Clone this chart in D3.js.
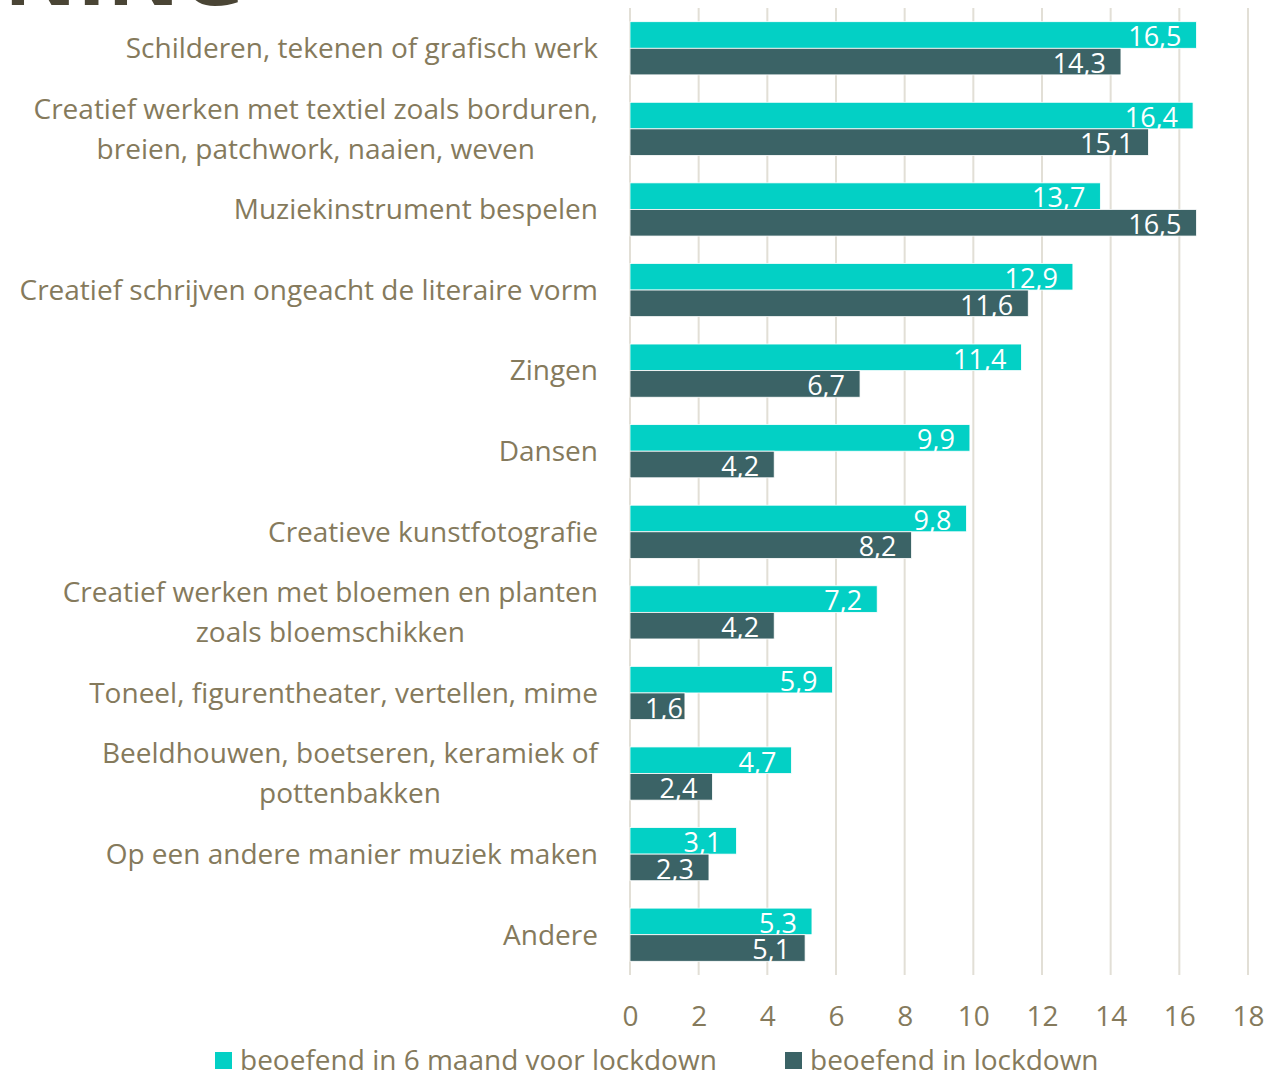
<!DOCTYPE html>
<html>
<head>
<meta charset="utf-8">
<script src="https://cdn.jsdelivr.net/npm/d3@7"></script>
<style>
  html, body { margin: 0; padding: 0; background: #fff; }
  svg text { font-family: "Open Sans", Lato, sans-serif; }
</style>
</head>
<body>
<svg id="chart" width="1268" height="1073"></svg>
<script>
const categories = [
  ["Schilderen, tekenen of grafisch werk"],
  ["Creatief werken met textiel zoals borduren,", "breien, patchwork, naaien, weven"],
  ["Muziekinstrument bespelen"],
  ["Creatief schrijven ongeacht de literaire vorm"],
  ["Zingen"],
  ["Dansen"],
  ["Creatieve kunstfotografie"],
  ["Creatief werken met bloemen en planten", "zoals bloemschikken"],
  ["Toneel, figurentheater, vertellen, mime"],
  ["Beeldhouwen, boetseren, keramiek of", "pottenbakken"],
  ["Op een andere manier muziek maken"],
  ["Andere"]
];
const voorLockdown = [16.5, 16.4, 13.7, 12.9, 11.4, 9.9, 9.8, 7.2, 5.9, 4.7, 3.1, 5.3];
const inLockdown = [14.3, 15.1, 16.5, 11.6, 6.7, 4.2, 8.2, 4.2, 1.6, 2.4, 2.3, 5.1];
const seriesNames = ["beoefend in 6 maand voor lockdown", "beoefend in lockdown"];
const xTicks = [0, 2, 4, 6, 8, 10, 12, 14, 16, 18];

const colors = ["#03d0c5", "#3b6366"];
const textColor = "#857a5c";
const fs = 28;

const svg = d3.select("#chart");
const x = d3.scaleLinear().domain([0, 18]).range([630, 1248]);
const y = d3.scaleBand().domain(d3.range(categories.length)).range([8, 975])
  .paddingInner(0.34).paddingOuter(0.17);
const sub = d3.scaleBand().domain([0, 1]).range([0, y.bandwidth()]);

// cut-off title above the chart
svg.append("text")
  .attr("x", 245).attr("y", 5)
  .attr("text-anchor", "end")
  .attr("font-size", 90).attr("font-weight", 700)
  .attr("fill", "#4a4535")
  .text("ENING");

// gridlines
svg.append("g").selectAll("line")
  .data(xTicks).join("line")
  .attr("x1", d => x(d)).attr("x2", d => x(d))
  .attr("y1", 8).attr("y2", 975)
  .attr("stroke", "#e2dfd6").attr("stroke-width", 2);

// x axis labels
const xAxis = d3.axisBottom(x).tickValues(xTicks).tickSize(0).tickPadding(0);
const gX = svg.append("g").attr("transform", "translate(0,1004)").call(xAxis);
gX.select(".domain").remove();
gX.selectAll(".tick text")
  .attr("dy", "0.8em")
  .attr("font-size", fs)
  .attr("font-family", "'Open Sans', Lato, sans-serif")
  .attr("fill", textColor);

// category labels
const cat = svg.append("g").selectAll("text")
  .data(categories).join("text")
  .attr("text-anchor", "end")
  .attr("font-size", fs)
  .attr("fill", textColor)
  .attr("y", (d, i) => y(i) + y.bandwidth() / 2);
cat.each(function (lines) {
  const t = d3.select(this);
  lines.forEach((ln, j) => {
    t.append("tspan")
      .attr("x", 598)
      .attr("dy", j === 0 ? (0.35 - (lines.length - 1) * 0.71) + "em" : "1.42em")
      .text(ln);
  });
});
// second lines of two-line labels are centred under the first
cat.each(function (lines) {
  if (lines.length < 2) return;
  const spans = d3.select(this).selectAll("tspan").nodes();
  const w0 = spans[0].getComputedTextLength();
  spans.slice(1).forEach(s => {
    d3.select(s).attr("text-anchor", "middle").attr("x", 598 - w0 / 2);
  });
});

// bars
const series = [voorLockdown, inLockdown];
series.forEach((vals, s) => {
  const g = svg.append("g");
  g.selectAll("rect")
    .data(vals).join("rect")
    .attr("x", x(0))
    .attr("y", (d, i) => y(i) + sub(s))
    .attr("width", d => x(d) - x(0))
    .attr("height", sub.bandwidth())
    .attr("fill", colors[s])
    .attr("stroke", "#fff").attr("stroke-width", 0.8);
  g.selectAll("text")
    .data(vals).join("text")
    .attr("y", (d, i) => y(i) + sub(s) + sub.bandwidth() - 2)
    .attr("text-anchor", "end")
    .attr("font-size", 27)
    .attr("fill", "#fff")
    .text(d => d3.format(".1f")(d).replace(".", ","))
    .attr("x", function (d) {
      const w = this.getComputedTextLength();
      return Math.max(x(d) - 15, x(0) + 15 + w);
    });
});

// legend
const legendX = [215, 785];
const leg = svg.append("g").selectAll("g")
  .data(seriesNames).join("g")
  .attr("transform", (d, i) => `translate(${legendX[i]},1052)`);
leg.append("rect").attr("width", 17).attr("height", 17)
  .attr("fill", (d, i) => colors[i]);
leg.append("text").attr("x", 25).attr("y", 18)
  .attr("font-size", fs).attr("fill", textColor)
  .text(d => d);
</script>
</body>
</html>
